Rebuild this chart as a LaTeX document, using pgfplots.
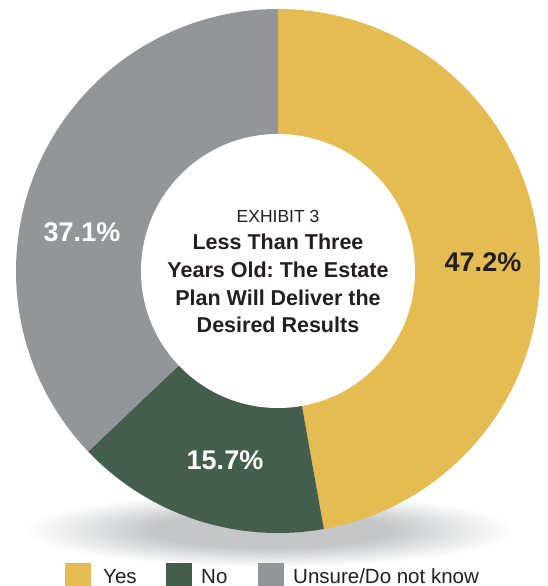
\documentclass[border=0pt]{standalone}
\usepackage{pgfplots}
\pgfplotsset{compat=1.18}
\usepackage{pgfplotstable}
\usepackage{fontspec}
\setmainfont{Liberation Sans}
\frenchspacing

\definecolor{cyes}{HTML}{E5BC52}
\definecolor{cno}{HTML}{435E4C}
\definecolor{cunsure}{HTML}{939598}
\definecolor{ink}{HTML}{231F20}
\definecolor{shadowgray}{HTML}{C5C6C8}
\pgfdeclareradialshading{dropshadow}{\pgfpoint{0bp}{0bp}}{%
  color(0bp)=(shadowgray); color(12bp)=(shadowgray);
  color(25bp)=(white); color(50bp)=(white)}

% survey shares, percent
\pgfplotstableread{
label value
Yes 47.2
No 15.7
Unsure 37.1
}\piedata

\begin{document}
\begin{tikzpicture}
\pgfplotstablegetelem{0}{value}\of\piedata \let\vyes\pgfplotsretval
\pgfplotstablegetelem{1}{value}\of\piedata \let\vno\pgfplotsretval
\pgfplotstablegetelem{2}{value}\of\piedata \let\vunsure\pgfplotsretval
\pgfmathsetmacro\aA{90}
\pgfmathsetmacro\aB{\aA-3.6*\vyes}
\pgfmathsetmacro\aC{\aB-3.6*\vno}
\pgfmathsetmacro\aD{\aC-3.6*\vunsure}
\def\cx{278}\def\cy{315}
\pgfkeys{/pgf/number format/.cd, fixed, precision=1, fixed zerofill, assume math mode=true}
\useasboundingbox (0,0) rectangle (548bp,586bp);
\begin{axis}[
    at={(0,0)}, anchor=south west,
    x=1bp, y=1bp,
    xmin=0, xmax=548, ymin=0, ymax=586,
    hide axis,
  ]
  % soft shadow under the ring
  \shade[shading=dropshadow] (axis cs:270,56) ellipse [x radius=245bp, y radius=37bp];

  % ring segments, clockwise from 12 o'clock
  \fill[cyes] (axis cs:\cx,\cy) -- ++(\aA:262bp) arc[start angle=\aA, end angle=\aB, radius=262bp] -- cycle;
  \fill[cno] (axis cs:\cx,\cy) -- ++(\aB:262bp) arc[start angle=\aB, end angle=\aC, radius=262bp] -- cycle;
  \fill[cunsure] (axis cs:\cx,\cy) -- ++(\aC:262bp) arc[start angle=\aC, end angle=\aD, radius=262bp] -- cycle;
  \fill[white] (axis cs:\cx,\cy) circle[radius=137bp];

  % value labels
  \node[anchor=base, inner sep=0, text=ink, font=\fontsize{27bp}{30bp}\selectfont\bfseries]
    at (axis cs:483,315) {\pgfmathprintnumber{\vyes}\%};
  \node[anchor=base, inner sep=0, text=white, font=\fontsize{27bp}{30bp}\selectfont\bfseries]
    at (axis cs:225,117) {\pgfmathprintnumber{\vno}\%};
  \node[anchor=base, inner sep=0, text=white, font=\fontsize{27bp}{30bp}\selectfont\bfseries]
    at (axis cs:82,345) {\pgfmathprintnumber{\vunsure}\%};

  % title in the hole
  \node[anchor=base, inner sep=0, text=ink, font=\fontsize{17.5bp}{20bp}\selectfont]
    at (axis cs:\cx,364) {EXHIBIT 3};
  \node[anchor=base, inner sep=0, text=ink, font=\fontsize{21.5bp}{26bp}\selectfont\bfseries]
    at (axis cs:\cx,337) {Less Than Three};
  \node[anchor=base, inner sep=0, text=ink, font=\fontsize{21.5bp}{26bp}\selectfont\bfseries]
    at (axis cs:\cx,309) {Years Old: The Estate};
  \node[anchor=base, inner sep=0, text=ink, font=\fontsize{21.5bp}{26bp}\selectfont\bfseries]
    at (axis cs:\cx,281) {Plan Will Deliver the};
  \node[anchor=base, inner sep=0, text=ink, font=\fontsize{21.5bp}{26bp}\selectfont\bfseries]
    at (axis cs:\cx,254) {Desired Results};

  % legend
  \fill[cyes] (axis cs:65,-3) rectangle (axis cs:91,23);
  \fill[cno] (axis cs:166,-3) rectangle (axis cs:192,23);
  \fill[cunsure] (axis cs:258,-3) rectangle (axis cs:284,23);
  \node[anchor=base west, inner sep=0, text=ink, font=\fontsize{20.5bp}{24bp}\selectfont]
    at (axis cs:103,3) {Yes};
  \node[anchor=base west, inner sep=0, text=ink, font=\fontsize{20.5bp}{24bp}\selectfont]
    at (axis cs:201,3) {No};
  \node[anchor=base west, inner sep=0, text=ink, font=\fontsize{20.5bp}{24bp}\selectfont]
    at (axis cs:293,3) {Unsure/Do not know};
\end{axis}
\end{tikzpicture}
\end{document}
